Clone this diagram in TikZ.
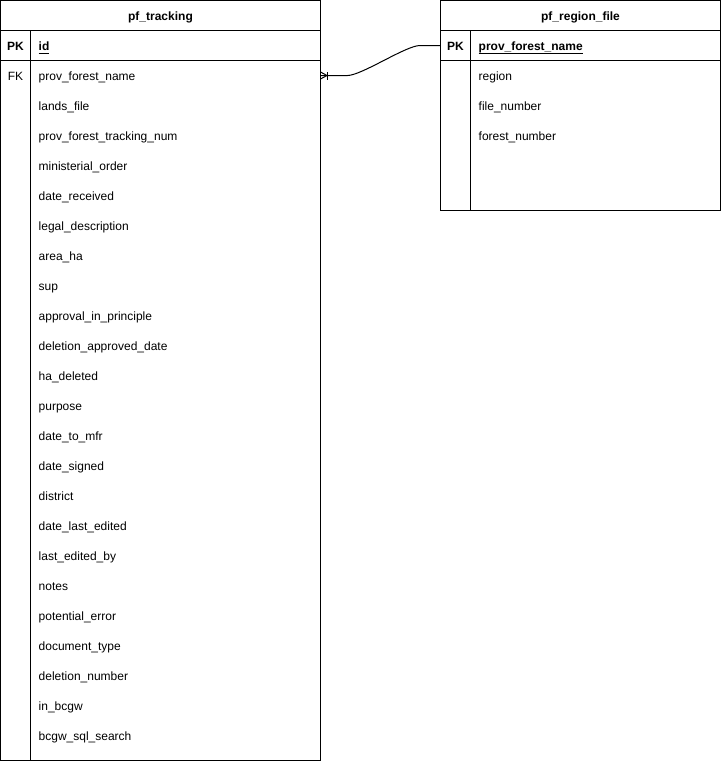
\documentclass[tikz,border=0pt]{standalone}
\usepackage{fontspec}
\setmainfont{Liberation Sans}
\newcommand\ulbox[1]{\setbox0\hbox{#1}\rlap{\rule[-3.1pt]{\wd0}{0.8pt}}\box0}
\begin{document}
\begin{tikzpicture}[x=1pt,y=-1pt,
  tbox/.style={draw,line width=1pt,anchor=north west,inner sep=0,outer sep=0},
  ln/.style={line width=1pt},
  attr/.style={anchor=base west,inner sep=0,font=\fontsize{12}{14}\selectfont},
  keytxt/.style={anchor=base,inner sep=0,font=\fontsize{12}{14}\selectfont},
  head/.style={anchor=base,inner sep=0,font=\fontsize{12}{14}\selectfont\bfseries},
  conn/.style={line width=1pt}]
\useasboundingbox (0,0) rectangle (721,761);
% left table
\node[tbox,minimum width=320pt,minimum height=760pt] (t1) at (0.5,0.5) {};
\draw[ln] (0.5,30.5) -- (320.5,30.5);
\draw[ln] (0.5,60.5) -- (320.5,60.5);
\draw[ln] (30.5,30.5) -- (30.5,760.5);
\node[head] (h1) at (160.5,20.5) {pf\_tracking};
\node[keytxt,font=\fontsize{12}{14}\selectfont\bfseries] (k1) at (15.5,50.5) {PK};
\node[attr,font=\fontsize{12}{14}\selectfont\bfseries] (id) at (38.5,50.5) {\ulbox{id}};
\node[keytxt] (k2) at (15.5,80.5) {FK};
\foreach \t [count=\i from 0] in {prov\_forest\_name,lands\_file,prov\_forest\_tracking\_num,ministerial\_order,date\_received,legal\_description,area\_ha,sup,approval\_in\_principle,deletion\_approved\_date,ha\_deleted,purpose,date\_to\_mfr,date\_signed,district,date\_last\_edited,last\_edited\_by,notes,potential\_error,document\_type,deletion\_number,in\_bcgw,bcgw\_sql\_search}
  \node[attr] (a\i) at (38.5,80.5+30*\i) {\t};
% right table
\node[tbox,minimum width=280pt,minimum height=210pt] (t2) at (440.5,0.5) {};
\draw[ln] (440.5,30.5) -- (720.5,30.5);
\draw[ln] (440.5,60.5) -- (720.5,60.5);
\draw[ln] (470.5,30.5) -- (470.5,210.5);
\node[head] (h2) at (580.5,20.5) {pf\_region\_file};
\node[keytxt,font=\fontsize{12}{14}\selectfont\bfseries] (k3) at (455.5,50.5) {PK};
\node[attr,font=\fontsize{12}{14}\selectfont\bfseries] (pfn) at (478.5,50.5) {\ulbox{prov\_forest\_name}};
\foreach \t [count=\i from 0] in {region,file\_number,forest\_number}
  \node[attr] (b\i) at (478.5,80.5+30*\i) {\t};
% connector
\coordinate (fk) at (320.5,75.5);
\coordinate (pk) at (440.5,45.5);
\draw[conn] (fk) -- ++(27,0) .. controls +(14,0) and (406,45.5) .. (420,45.5) -- (pk);
\draw[conn] ([yshift=-3.5pt]fk) -- ([xshift=6.5pt]fk) -- ([yshift=3.5pt]fk);
\draw[conn] ([xshift=7pt,yshift=-4pt]fk) -- ([xshift=7pt,yshift=4pt]fk);
\end{tikzpicture}
\end{document}
